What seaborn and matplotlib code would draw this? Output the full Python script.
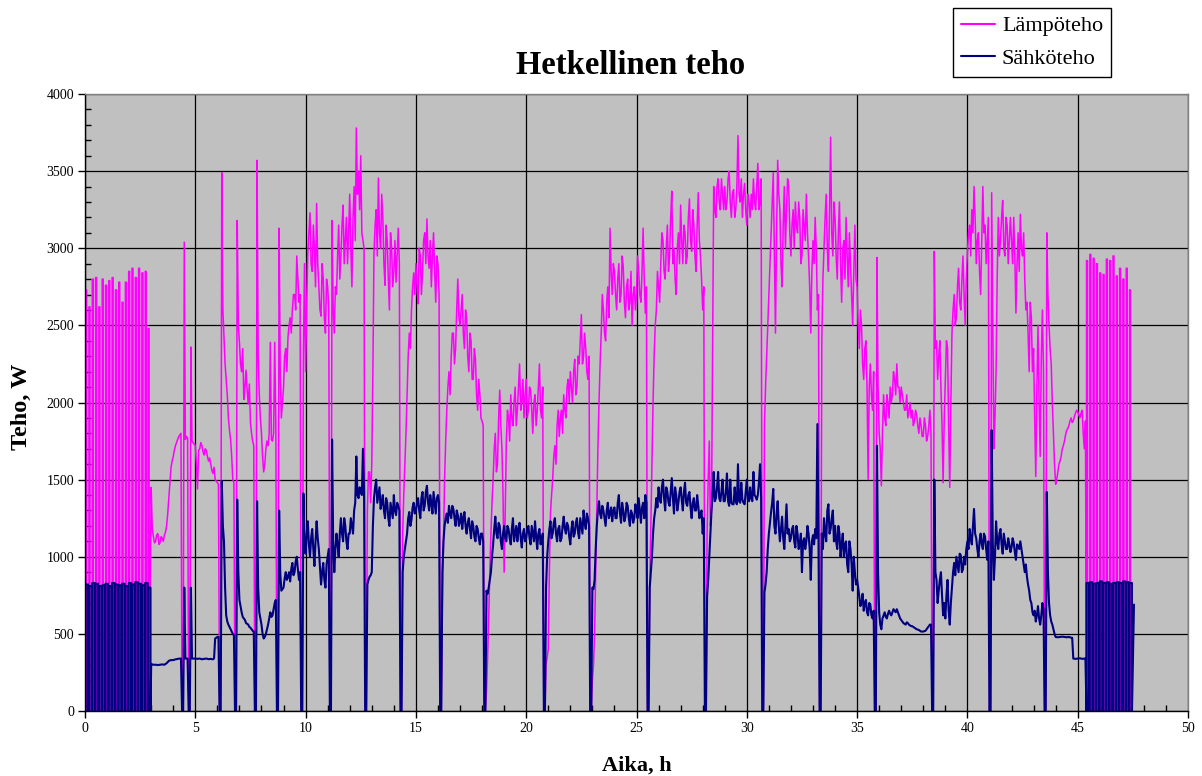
import numpy as np
import pandas as pd
import matplotlib
matplotlib.use("Agg")
import matplotlib.pyplot as plt
from matplotlib.lines import Line2D
from matplotlib.ticker import MultipleLocator
import seaborn as sns

# ---------------- data ----------------
# On/off cycling at the start (0 ... 3 h): pulse start times, peaks
cycle_a_h = [0.03, 0.18, 0.33, 0.48, 0.63, 0.78, 0.93, 1.08, 1.23, 1.38,
             1.53, 1.68, 1.83, 1.98, 2.13, 2.28, 2.43, 2.58, 2.73, 2.86]
cycle_a_lampo = [2730, 2620, 2800, 2810, 2620, 2800, 2760, 2790, 2810, 2730,
                 2780, 2650, 2780, 2850, 2870, 2810, 2870, 2840, 2850, 2480]
cycle_a_sahko = [820, 810, 830, 825, 810, 815, 825, 810, 830, 820,
                 815, 825, 810, 830, 820, 835, 825, 815, 830, 800]

# On/off cycling at the end (45.4 ... 47.6 h)
cycle_b_h = [45.40, 45.55, 45.70, 45.85, 46.00, 46.15, 46.30, 46.45, 46.60,
             46.75, 46.90, 47.05, 47.20, 47.35]
cycle_b_lampo = [2920, 2960, 2935, 2900, 2840, 2830, 2930, 2920, 2950,
                 2820, 2870, 2800, 2870, 2730]
cycle_b_sahko = [830, 835, 825, 830, 840, 830, 835, 825, 830,
                 835, 830, 840, 835, 830]

# Continuous part: samples at H.0, H.1, ... (one row per hour, 3.0 ... 45.3 h)
lampo_w = [
    1450, 1130, 1100, 1150, 1090, 1120, 1140, 1200, 1380, 1580,   # 3
    1650, 1720, 1760, 1790, 0, 3040, 1780, 0, 2360, 1740,         # 4
    1720, 1440, 1700, 1720, 1660, 1690, 1620, 1600, 1540, 1500,   # 5
    1480, 0, 3490, 2420, 2150, 1900, 1760, 1500, 0, 3180,         # 6
    2390, 2200, 2020, 2210, 1990, 1870, 1750, 0, 3570, 2050,      # 7
    1800, 1550, 1700, 1720, 2390, 1750, 2390, 0, 3130, 1900,      # 8
    2100, 2350, 2420, 2550, 2600, 2700, 2950, 2650, 0, 2300,      # 9
    2200, 2970, 3230, 2850, 3000, 3290, 2750, 2560, 2800, 2450,   # 10
    2750, 0, 3180, 2450, 2700, 3150, 2950, 3280, 3050, 2900,      # 11
    3350, 2750, 3400, 3780, 3500, 3600, 3050, 0, 1300, 1550,      # 12
    1600, 2970, 3250, 3455, 3000, 3200, 2760, 3050, 2600, 3000,   # 13
    2850, 2780, 3130, 0, 1150, 1600, 2050, 2450, 2600, 2840,      # 14
    2900, 2640, 2950, 2850, 3100, 3190, 2870, 2750, 3100, 2650,   # 15
    2900, 0, 700, 1500, 1950, 2200, 2300, 2450, 2350, 2800,       # 16
    2500, 2700, 2350, 2550, 2200, 2400, 2150, 2280, 1950, 2050,   # 17
    1880, 0, 130, 600, 1150, 1500, 1800, 1600, 2080, 1700,        # 18
    900, 1750, 1900, 2050, 1850, 2100, 1950, 2250, 2000, 1900,    # 19
    2150, 1950, 2080, 1800, 2050, 1950, 2250, 1900, 0, 300,       # 20
    400, 1280, 1500, 1720, 1850, 1780, 1950, 2050, 1900, 2150,    # 21
    2200, 2000, 2280, 2100, 2250, 2570, 2300, 2350, 2150, 0,      # 22
    200, 500, 1300, 2000, 2450, 2600, 2400, 2750, 3130, 2700,     # 23
    2850, 2600, 2900, 2700, 2880, 2550, 2800, 2650, 2500, 2750,   # 24
    2700, 2850, 2650, 3130, 2580, 0, 800, 1600, 2300, 2600,       # 25
    2750, 2900, 3050, 2800, 3150, 2950, 3370, 3000, 2700, 3100,   # 26
    3280, 2900, 3100, 2950, 3320, 2980, 3150, 2850, 3360, 2950,   # 27
    2600, 0, 1150, 1750, 1300, 3400, 3200, 3450, 3250, 3350,      # 28
    3400, 3300, 3500, 3200, 3380, 3250, 3730, 3300, 3200, 3420,   # 29
    3150, 3300, 3350, 3450, 3250, 3550, 3300, 0, 1850, 2300,      # 30
    2700, 3100, 3490, 2450, 3570, 3250, 2750, 3400, 3250, 3400,   # 31
    2950, 3250, 3300, 3100, 3200, 2950, 3150, 3350, 2950, 2450,   # 32
    3050, 3200, 2600, 0, 2400, 3000, 3350, 2850, 3720, 2950,      # 33
    3200, 2800, 3300, 2650, 3050, 3200, 2750, 2900, 2500, 3150,   # 34
    2750, 2350, 2500, 2150, 2400, 1500, 2250, 1950, 0, 2940,      # 35
    1800, 1460, 2050, 1850, 2000, 2100, 2050, 2150, 2250, 2100,   # 36
    2100, 2000, 1950, 1900, 2000, 1950, 1880, 1920, 1800, 1850,   # 37
    1780, 1850, 1780, 1950, 0, 2980, 2400, 2300, 2100, 1480,      # 38
    2150, 2350, 1450, 2450, 2700, 2550, 2870, 2600, 2950, 2500,   # 39
    2970, 3150, 3250, 3400, 2900, 3100, 2700, 3400, 3150, 3050,   # 40
    0, 3360, 1700, 2200, 3200, 3050, 3310, 2950, 3150, 3050,      # 41
    3050, 3200, 2580, 3100, 3220, 2950, 2800, 2650, 2200, 2550,   # 42
    2350, 1520, 2500, 1650, 2600, 0, 3100, 2500, 2250, 1800,      # 43
    1470, 1550, 1620, 1700, 1750, 1820, 1850, 1900, 1880, 1930,   # 44
    1940, 1900, 1950, 1700,                                       # 45
]
# samples in between, at H.05, H.15, ...
lampo_mid_w = [
    1180, 1090, 1140, 1080, 1130, 1100, 1160, 1280, 1480, 1620,   # 3
    1690, 1740, 1780, 1800, 0, 1760, 1770, 0, 1750, 1730,         # 4
    1600, 1690, 1740, 1680, 1700, 1650, 1640, 1560, 1580, 1490,   # 5
    1470, 0, 2600, 2250, 2050, 1820, 1650, 1480, 0, 2500,         # 6
    2250, 2350, 2100, 2080, 2120, 1800, 1720, 0, 2300, 1900,      # 7
    1650, 1600, 1750, 1800, 1760, 1800, 1850, 0, 2200, 2000,      # 8
    2300, 2200, 2500, 2450, 2700, 2600, 2800, 2700, 0, 2900,      # 9
    2650, 3100, 2900, 3150, 2750, 2900, 2600, 2900, 2550, 2800,   # 10
    2600, 0, 2600, 2750, 2950, 2800, 3150, 2900, 3200, 3100,      # 11
    3000, 3200, 3050, 3350, 3250, 3100, 3000, 0, 1550, 1350,      # 12
    2200, 3150, 2950, 3100, 3350, 2900, 3150, 2800, 3100, 2750,   # 13
    3050, 2950, 2900, 0, 1400, 1800, 2300, 2350, 2750, 2700,      # 14
    2750, 3000, 2700, 3050, 2900, 2950, 3050, 2950, 2850, 2950,   # 15
    2700, 0, 1100, 1750, 2100, 2050, 2450, 2250, 2600, 2550,      # 16
    2600, 2450, 2600, 2300, 2450, 2150, 2350, 2050, 2150, 1900,   # 17
    1850, 0, 350, 900, 1350, 1700, 1550, 1900, 1850, 1400,        # 18
    1300, 1950, 1750, 1900, 2000, 1850, 2100, 1950, 2150, 2050,   # 19
    1900, 2100, 1950, 2000, 1850, 2100, 1950, 2100, 0, 350,       # 20
    900, 1400, 1650, 1600, 1950, 1900, 1800, 1950, 2100, 2000,    # 21
    2100, 2200, 2050, 2300, 2400, 2250, 2450, 2200, 2300, 0,      # 22
    300, 900, 1700, 2250, 2700, 2450, 2650, 2550, 2850, 2900,     # 23
    2700, 2800, 2650, 2950, 2650, 2750, 2600, 2850, 2700, 2600,   # 24
    2950, 2700, 2850, 2800, 2750, 0, 1200, 2000, 2500, 2850,      # 25
    2650, 3100, 2850, 3000, 2850, 3200, 2900, 2800, 3000, 2900,   # 26
    3050, 3150, 2900, 3200, 3050, 3250, 2950, 3150, 3050, 2800,   # 27
    2750, 0, 1500, 1200, 2300, 3250, 3400, 3300, 3450, 3250,      # 28
    3250, 3450, 3300, 3350, 3200, 3400, 3350, 3450, 3350, 3250,   # 29
    3350, 3200, 3250, 3300, 3400, 3250, 3450, 0, 2100, 2500,      # 30
    2900, 3300, 2950, 3100, 3350, 2900, 3150, 3000, 3450, 3100,   # 31
    3150, 3000, 3150, 3300, 2900, 3250, 3050, 3100, 2750, 2850,   # 32
    2900, 3000, 2700, 0, 2800, 3200, 3000, 3250, 3100, 3300,      # 33
    2950, 3100, 2900, 3000, 2800, 2950, 3100, 2700, 2850, 2800,   # 34
    2500, 2600, 2250, 2350, 2100, 2100, 2050, 2200, 0, 2100,      # 35
    1700, 1800, 1900, 2050, 1900, 2000, 2200, 2050, 2100, 2000,   # 36
    2050, 1950, 2050, 1950, 1900, 1850, 1950, 1850, 1900, 1780,   # 37
    1900, 1750, 1850, 1800, 0, 2350, 2150, 2400, 1850, 1900,      # 38
    2400, 1850, 2000, 2600, 2500, 2750, 2650, 2800, 2700, 2800,   # 39
    3100, 2950, 3100, 3200, 3050, 2850, 3050, 3100, 2900, 3200,   # 40
    0, 2500, 1900, 2800, 2950, 3200, 3000, 3200, 2900, 3200,      # 41
    2900, 2950, 2900, 2850, 3000, 3100, 2600, 2450, 2650, 2200,   # 42
    1900, 2100, 2000, 2300, 2200, 0, 2700, 2350, 2000, 1600,      # 43
    1500, 1600, 1650, 1720, 1790, 1830, 1880, 1870, 1910, 1950,   # 44
    1920, 1930, 1800, 1880,                                       # 45
]

sahko_w = [
    305, 300, 300, 298, 300, 302, 300, 310, 325, 330,             # 3
    330, 335, 338, 340, 0, 800, 340, 0, 800, 340,                 # 4
    340, 338, 340, 335, 338, 340, 336, 338, 335, 470,             # 5
    480, 0, 1490, 1100, 620, 560, 530, 500, 0, 1370,              # 6
    720, 640, 600, 570, 560, 540, 520, 0, 1360, 640,              # 7
    560, 470, 500, 560, 640, 620, 700, 0, 1300, 780,              # 8
    800, 900, 870, 840, 960, 900, 1000, 850, 0, 1410,             # 9
    1020, 1230, 1000, 1180, 940, 1230, 1050, 820, 960, 800,       # 10
    1000, 0, 1760, 900, 1150, 1000, 1250, 1100, 1200, 1050,       # 11
    1150, 1200, 1300, 1650, 1380, 1420, 1700, 0, 820, 870,        # 12
    900, 1380, 1500, 1400, 1310, 1400, 1250, 1350, 1200, 1300,    # 13
    1400, 1270, 1330, 0, 900, 1050, 1150, 1290, 1240, 1350,       # 14
    1300, 1380, 1250, 1420, 1330, 1460, 1300, 1350, 1420, 1280,   # 15
    1400, 0, 900, 1200, 1280, 1330, 1250, 1310, 1200, 1270,       # 16
    1230, 1180, 1290, 1150, 1250, 1120, 1200, 1100, 1180, 1080,   # 17
    1150, 0, 780, 800, 900, 1080, 1260, 1120, 1200, 1050,         # 18
    1200, 1100, 1180, 1080, 1250, 1150, 1100, 1220, 1060, 1180,   # 19
    1120, 1200, 1080, 1150, 1230, 1050, 1180, 1100, 0, 800,       # 20
    1100, 1230, 1150, 1250, 1100, 1200, 1120, 1260, 1150, 1200,   # 21
    1080, 1230, 1150, 1250, 1120, 1200, 1300, 1180, 1250, 0,      # 22
    800, 850, 1200, 1360, 1250, 1300, 1200, 1350, 1280, 1230,     # 23
    1320, 1250, 1400, 1220, 1300, 1260, 1330, 1200, 1280, 1250,   # 24
    1300, 1380, 1220, 1350, 1400, 0, 800, 1000, 1250, 1380,       # 25
    1450, 1350, 1500, 1300, 1420, 1330, 1510, 1280, 1400, 1350,   # 26
    1450, 1300, 1480, 1330, 1420, 1250, 1380, 1300, 1330, 1280,   # 27
    1150, 0, 740, 1000, 1300, 1550, 1380, 1550, 1360, 1500,       # 28
    1360, 1540, 1330, 1350, 1340, 1360, 1600, 1350, 1370, 1340,   # 29
    1500, 1360, 1380, 1550, 1390, 1400, 1600, 0, 770, 900,        # 30
    1150, 1290, 1440, 1150, 1360, 1100, 1260, 1050, 1340, 1180,   # 31
    1120, 1200, 1060, 1150, 1080, 900, 1120, 1100, 1150, 850,     # 32
    1140, 1180, 1860, 0, 1150, 1250, 1100, 1340, 1180, 1300,      # 33
    1200, 1050, 1150, 1080, 1000, 1100, 900, 1050, 780, 900,      # 34
    850, 740, 700, 650, 720, 620, 690, 600, 0, 1720,              # 35
    640, 530, 620, 610, 630, 630, 640, 650, 660, 620,             # 36
    590, 570, 560, 570, 555, 550, 540, 530, 525, 515,             # 37
    515, 520, 540, 560, 0, 1500, 850, 780, 900, 620,              # 38
    600, 850, 560, 800, 960, 1000, 900, 1010, 920, 950,           # 39
    1100, 1180, 1080, 1310, 1120, 1000, 1150, 1050, 1130, 980,    # 40
    0, 1820, 850, 1230, 1050, 1180, 1020, 1100, 1050, 1080,       # 41
    1060, 1090, 980, 1070, 1100, 1000, 900, 870, 780, 700,        # 42
    620, 580, 680, 560, 700, 0, 1420, 700, 580, 530,              # 43
    480, 478, 480, 482, 480, 478, 480, 475, 340, 338,             # 44
    340, 342, 338, 340,                                           # 45
]
sahko_mid_w = [
    302, 300, 299, 299, 301, 301, 305, 318, 328, 330,             # 3
    332, 336, 339, 340, 0, 340, 340, 0, 340, 340,                 # 4
    339, 339, 338, 337, 339, 338, 337, 336, 340, 475,             # 5
    480, 0, 1200, 800, 580, 545, 515, 490, 0, 900,                # 6
    680, 610, 590, 565, 545, 530, 515, 0, 800, 600,               # 7
    500, 480, 530, 600, 610, 660, 720, 0, 900, 790,               # 8
    860, 850, 900, 920, 880, 970, 920, 900, 0, 1100,              # 9
    1150, 1080, 1120, 1050, 1100, 1120, 930, 900, 850, 950,       # 10
    1050, 0, 1100, 1050, 1080, 1150, 1150, 1250, 1100, 1150,      # 11
    1250, 1150, 1350, 1400, 1450, 1400, 1420, 0, 850, 880,        # 12
    1200, 1450, 1350, 1450, 1350, 1300, 1380, 1250, 1350, 1250,   # 13
    1300, 1350, 1300, 0, 1000, 1100, 1250, 1200, 1320, 1280,      # 14
    1350, 1300, 1380, 1300, 1420, 1350, 1400, 1280, 1350, 1380,   # 15
    1350, 0, 1100, 1250, 1220, 1280, 1330, 1250, 1300, 1200,      # 16
    1280, 1250, 1200, 1220, 1180, 1230, 1130, 1200, 1120, 1150,   # 17
    1100, 0, 760, 850, 1000, 1180, 1150, 1220, 1100, 1150,        # 18
    1120, 1200, 1120, 1180, 1100, 1200, 1180, 1120, 1150, 1100,   # 19
    1180, 1120, 1200, 1100, 1130, 1150, 1080, 1150, 0, 1000,      # 20
    1180, 1120, 1220, 1150, 1180, 1100, 1200, 1180, 1220, 1130,   # 21
    1180, 1130, 1220, 1160, 1250, 1150, 1220, 1280, 1200, 0,      # 22
    790, 1050, 1300, 1280, 1330, 1250, 1300, 1250, 1320, 1300,    # 23
    1250, 1350, 1280, 1350, 1230, 1350, 1250, 1300, 1220, 1340,   # 24
    1250, 1300, 1320, 1250, 1350, 0, 900, 1150, 1300, 1320,       # 25
    1380, 1450, 1380, 1450, 1350, 1420, 1380, 1450, 1300, 1420,   # 26
    1370, 1420, 1350, 1400, 1320, 1350, 1300, 1400, 1250, 1300,   # 27
    1250, 0, 850, 1150, 1400, 1360, 1450, 1380, 1420, 1360,       # 28
    1420, 1360, 1500, 1340, 1450, 1340, 1360, 1480, 1350, 1420,   # 29
    1370, 1450, 1360, 1400, 1370, 1480, 1380, 0, 820, 1050,       # 30
    1220, 1350, 1200, 1280, 1200, 1180, 1120, 1200, 1150, 1100,   # 31
    1180, 1100, 1200, 1050, 1150, 1100, 1050, 1200, 1050, 1100,   # 32
    1080, 1120, 1100, 0, 1050, 1150, 1300, 1150, 1250, 1100,      # 33
    1100, 1200, 1000, 1150, 1080, 950, 1100, 950, 1000, 820,      # 34
    800, 680, 760, 700, 640, 700, 620, 650, 0, 900,               # 35
    560, 600, 640, 600, 650, 620, 660, 640, 640, 600,             # 36
    580, 565, 575, 560, 550, 545, 535, 528, 520, 515,             # 37
    518, 530, 550, 560, 0, 900, 700, 850, 750, 700,               # 38
    750, 650, 700, 900, 880, 950, 1020, 900, 1000, 1050,          # 39
    1050, 1120, 1200, 1150, 1050, 1100, 1080, 1150, 1050, 1100,   # 40
    0, 1100, 1000, 1100, 1150, 1080, 1150, 1050, 1120, 1030,      # 41
    1120, 1030, 1080, 1050, 1050, 950, 950, 820, 720, 640,        # 42
    650, 620, 600, 620, 660, 0, 900, 620, 560, 500,               # 43
    479, 479, 481, 481, 479, 479, 478, 475, 339, 339,             # 44
    341, 340, 339, 340,                                           # 45
]

# time of every sample: H.0, H.05, H.1, H.15, ...
sample_h = np.round(np.arange(2 * len(lampo_w)) * 0.05 + 3.0, 2)


def interleave(a, b):
    return list(np.column_stack([a, b]).ravel())


def pulses(starts, peaks, width):
    t, v = [], []
    for s, p in zip(starts, peaks):
        t += [s, s, s + width, s + width]
        v += [0, p, p, 0]
    return t, v


la_t, la_v = pulses(cycle_a_h, cycle_a_lampo, 0.045)
lb_t, lb_v = pulses(cycle_b_h, cycle_b_lampo, 0.045)
sa_t, sa_v = pulses(cycle_a_h, cycle_a_sahko, 0.11)
sb_t, sb_v = pulses(cycle_b_h, cycle_b_sahko, 0.11)

lampo = pd.DataFrame({"h": la_t + list(sample_h) + lb_t,
                      "w": la_v + interleave(lampo_w, lampo_mid_w) + lb_v})
sahko = pd.DataFrame({"h": sa_t + list(sample_h) + sb_t + [47.55],
                      "w": sa_v + interleave(sahko_w, sahko_mid_w) + sb_v + [690]})

# ---------------- plot ----------------
sns.set_theme(style="white")
plt.rcParams["font.family"] = ["Liberation Serif", "DejaVu Serif"]
plt.rcParams["text.color"] = "black"
plt.rcParams["axes.labelcolor"] = "black"
plt.rcParams["xtick.color"] = "black"
plt.rcParams["ytick.color"] = "black"

W, H = 1202, 776
fig = plt.figure(figsize=(W / 100, H / 100), dpi=100)
ax = fig.add_axes([85 / W, 1 - 711 / H, (1188 - 85) / W, (711 - 94) / H])
ax.set_facecolor("#C0C0C0")

magenta = "#FF00FF"
navy = "#000080"
sns.lineplot(data=lampo, x="h", y="w", ax=ax, color=magenta, lw=1.1,
             estimator=None, sort=False, legend=False)
sns.lineplot(data=sahko, x="h", y="w", ax=ax, color=navy, lw=1.5,
             estimator=None, sort=False, legend=False)

ax.set_xlim(0, 50)
ax.set_ylim(0, 4000)
ax.xaxis.set_major_locator(MultipleLocator(5))
ax.xaxis.set_minor_locator(MultipleLocator(1))
ax.yaxis.set_major_locator(MultipleLocator(500))
ax.yaxis.set_minor_locator(MultipleLocator(100))
ax.grid(which="major", color="black", lw=0.9)
ax.set_axisbelow(True)

ax.tick_params(which="major", direction="out", length=5, width=1,
               color="black", labelsize=10, labelcolor="black", pad=3)
ax.tick_params(which="minor", direction="in", length=4, width=1,
               color="black")
ax.tick_params(axis="x", which="both", bottom=True)
ax.tick_params(axis="y", which="both", left=True)

for side in ["left", "bottom"]:
    ax.spines[side].set_color("black")
    ax.spines[side].set_linewidth(1.0)
for side in ["top", "right"]:
    ax.spines[side].set_color("#808080")
    ax.spines[side].set_linewidth(1.0)

ax.set_xlabel("")
ax.set_ylabel("")
fig.text(637 / W, 1 - 766 / H, "Aika, h", ha="center", va="center",
         fontsize=16, fontweight="bold", color="black")
fig.text(21 / W, 1 - 407 / H, "Teho, W", ha="center", va="center",
         rotation=90, fontsize=17.5, fontweight="bold", color="black")

fig.text(631 / W, 1 - 65 / H, "Hetkellinen teho", ha="center", va="center",
         fontsize=23.5, fontweight="bold", color="black")

handles = [Line2D([], [], color=magenta, lw=1.5),
           Line2D([], [], color=navy, lw=1.5)]
leg = fig.legend(handles, ["Lämpöteho", "Sähköteho"], loc="upper left",
                 bbox_to_anchor=(953 / W, 1 - 8 / H), frameon=True,
                 fancybox=False, edgecolor="black", framealpha=1,
                 fontsize=16, handlelength=1.55, handletextpad=0.3,
                 borderpad=0.35, labelspacing=0.55, borderaxespad=0)
leg.get_frame().set_linewidth(1.0)
for txt in leg.get_texts():
    txt.set_color("black")

fig.savefig("out.png", dpi=100)
